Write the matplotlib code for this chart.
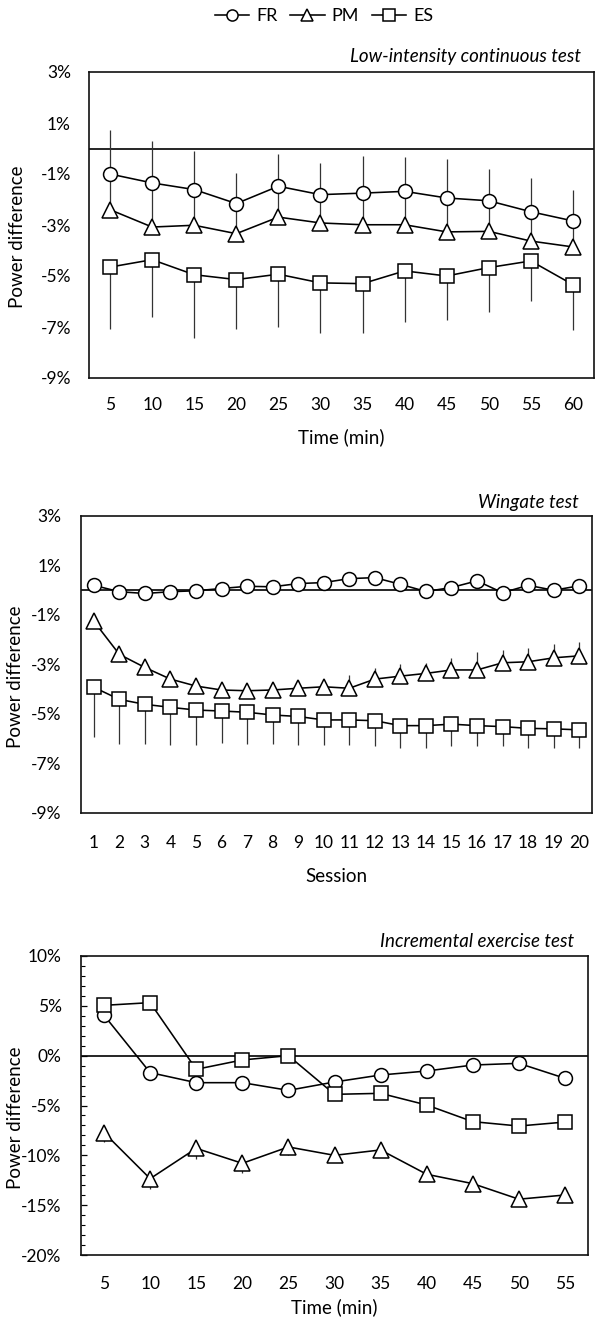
import matplotlib
matplotlib.use("Agg")
import matplotlib.pyplot as plt
from matplotlib.lines import Line2D
from matplotlib.ticker import FuncFormatter, MultipleLocator

# ---------------- data ----------------
lic_time = [5, 10, 15, 20, 25, 30, 35, 40, 45, 50, 55, 60]
lic_fr = [-1.0, -1.35, -1.61, -2.16, -1.48, -1.81, -1.75, -1.68, -1.94, -2.05, -2.48, -2.84]
lic_fr_up = [1.74, 1.65, 1.5, 1.2, 1.25, 1.25, 1.46, 1.35, 1.52, 1.25, 1.32, 1.2]
lic_pm = [-2.4, -3.08, -3.01, -3.34, -2.69, -2.92, -2.99, -2.99, -3.27, -3.25, -3.63, -3.86]
lic_pm_up = [1.6, 1.8, 1.6, 1.3, 1.4, 1.3, 1.4, 1.4, 1.5, 1.3, 1.3, 1.2]
lic_es = [-4.65, -4.36, -4.95, -5.14, -4.93, -5.27, -5.3, -4.8, -5.0, -4.67, -4.41, -5.34]
lic_es_lo = [2.42, 2.25, 2.47, 1.93, 2.07, 1.95, 1.92, 2.0, 1.71, 1.74, 1.57, 1.79]

wg_session = list(range(1, 21))
wg_fr = [0.2, -0.06, -0.13, -0.06, -0.02, 0.07, 0.16, 0.14, 0.27, 0.31,
         0.47, 0.51, 0.24, -0.05, 0.11, 0.38, -0.1, 0.2, 0.0, 0.18]
wg_pm = [-1.25, -2.59, -3.12, -3.59, -3.87, -4.03, -4.06, -4.03, -3.96, -3.9,
         -3.96, -3.59, -3.47, -3.36, -3.22, -3.22, -2.93, -2.89, -2.73, -2.65]
wg_pm_up = [0.25, 0.25, 0.25, 0.25, 0.25, 0.25, 0.25, 0.25, 0.35, 0.25,
            0.54, 0.43, 0.47, 0.43, 0.49, 0.74, 0.51, 0.54, 0.54, 0.54]
wg_es = [-3.92, -4.41, -4.61, -4.73, -4.84, -4.88, -4.93, -5.04, -5.1, -5.24,
         -5.24, -5.27, -5.47, -5.47, -5.41, -5.47, -5.51, -5.58, -5.6, -5.64]
wg_es_lo = [1.99, 1.8, 1.6, 1.52, 1.41, 1.3, 1.28, 1.17, 1.15, 1.03,
            1.01, 1.02, 0.91, 0.89, 0.88, 0.84, 0.8, 0.8, 0.76, 0.72]

ie_time = [5, 10, 15, 20, 25, 30, 35, 40, 45, 50, 55]
ie_fr = [4.05, -1.7, -2.71, -2.71, -3.48, -2.64, -1.94, -1.54, -0.94, -0.77, -2.27]
ie_pm = [-7.73, -12.34, -9.3, -10.8, -9.16, -10.0, -9.46, -11.9, -12.84, -14.4, -13.98]
ie_pm_lo = [0.95, 1.0, 1.05, 0.94, 0.85, 0.5, 0.5, 0.5, 0.5, 0.5, 0.5]
ie_es = [5.05, 5.32, -1.37, -0.43, 0.0, -3.88, -3.78, -4.95, -6.62, -7.06, -6.66]

series_names = ["FR", "PM", "ES"]
series_markers = ["o", "^", "s"]

# ---------------- style ----------------
plt.rcParams["font.family"] = ["Lato", "DejaVu Sans"]
plt.rcParams["axes.unicode_minus"] = False

W, H = 598, 1319
fig = plt.figure(figsize=(W / 100, H / 100), dpi=100)


def box(l, r, t, b):
    return [l / W, 1 - b / H, (r - l) / W, (b - t) / H]


pct = FuncFormatter(lambda v, p: f"{v:.0f}%")
LINE_KW = dict(color="black", lw=1.15, mfc="white", mec="black", mew=1.1)
ERR_KW = dict(ecolor="#333333", elinewidth=0.9, capsize=0)


def draw(ax, cats, ys, errs, msizes):
    x = list(range(1, len(cats) + 1))
    for y, err, mk, ms in zip(ys, errs, series_markers, msizes):
        ax.errorbar(x, y, yerr=err, fmt="-", marker=mk, ms=ms, zorder=3,
                    **LINE_KW, **ERR_KW)
    ax.set_xticks(x)
    ax.set_xticklabels([str(c) for c in cats])
    ax.set_xlim(0.5, len(cats) + 0.5)
    ax.axhline(0, color="black", lw=1.2, zorder=2)
    ax.yaxis.set_major_formatter(pct)
    for s in ax.spines.values():
        s.set_linewidth(1.2)
        s.set_color("#111111")


def labels(ax, xlabel, xl_y, yl_x, title, tx, ty):
    ax.set_xlabel(xlabel, fontsize=13.5, va="center")
    ax.xaxis.set_label_coords(0.5, xl_y)
    ax.set_ylabel("Power difference", fontsize=13.5, va="center")
    ax.yaxis.set_label_coords(yl_x, 0.46)
    ax.text(tx, ty, title, transform=ax.transAxes, ha="right", va="center",
            fontsize=13.5, style="italic")


zeros12 = [0] * 12
zeros20 = [0] * 20
zeros11 = [0] * 11

# Panel 1: low-intensity continuous test
ax1 = fig.add_axes(box(89, 594, 72, 378))
draw(ax1, lic_time, [lic_fr, lic_pm, lic_es],
     [[zeros12, lic_fr_up], [zeros12, lic_pm_up], [lic_es_lo, zeros12]],
     [10, 11, 10.5])
ax1.set_ylim(-9, 3)
ax1.set_yticks([-9, -7, -5, -3, -1, 1, 3])
ax1.tick_params(axis="both", length=0, labelsize=12.5)
ax1.tick_params(axis="y", pad=13)
ax1.tick_params(axis="x", pad=14)
labels(ax1, "Time (min)", -0.193, -0.142, "Low-intensity continuous test", 0.974, 1.052)

# Panel 2: Wingate test
ax2 = fig.add_axes(box(81, 592, 516, 813))
draw(ax2, wg_session, [wg_fr, wg_pm, wg_es],
     [[zeros20, zeros20], [zeros20, wg_pm_up], [wg_es_lo, zeros20]],
     [10, 11, 10.5])
ax2.set_ylim(-9, 3)
ax2.set_yticks([-9, -7, -5, -3, -1, 1, 3])
ax2.tick_params(axis="both", length=0, labelsize=12.5)
ax2.tick_params(axis="y", pad=14)
ax2.tick_params(axis="x", pad=16)
labels(ax2, "Session", -0.215, -0.129, "Wingate test", 0.975, 1.044)

# Panel 3: incremental exercise test
ax3 = fig.add_axes(box(81, 588, 956, 1255))
draw(ax3, ie_time, [ie_fr, ie_pm, ie_es],
     [[zeros11, zeros11], [ie_pm_lo, zeros11], [zeros11, zeros11]],
     [10, 11, 10.5])
ax3.set_ylim(-20, 10)
ax3.set_yticks([-20, -15, -10, -5, 0, 5, 10])
ax3.yaxis.set_minor_locator(MultipleLocator(1))
ax3.tick_params(axis="y", which="major", direction="in", length=4, width=0.9,
                labelsize=12.5, pad=14)
ax3.tick_params(axis="y", which="minor", direction="in", length=3, width=0.8)
ax3.tick_params(axis="x", length=0, labelsize=12.5, pad=15)
labels(ax3, "Time (min)", -0.174, -0.13, "Incremental exercise test", 0.972, 1.047)

# Legend
handles = [Line2D([], [], marker=m, ms=8, **LINE_KW) for m in series_markers]
fig.legend(handles, series_names, loc="center", bbox_to_anchor=(0.542, 1 - 16 / H),
           ncol=3, frameon=False, fontsize=13, handlelength=1.9,
           handletextpad=0.4, columnspacing=0.7)

fig.savefig("out.png", dpi=100)
